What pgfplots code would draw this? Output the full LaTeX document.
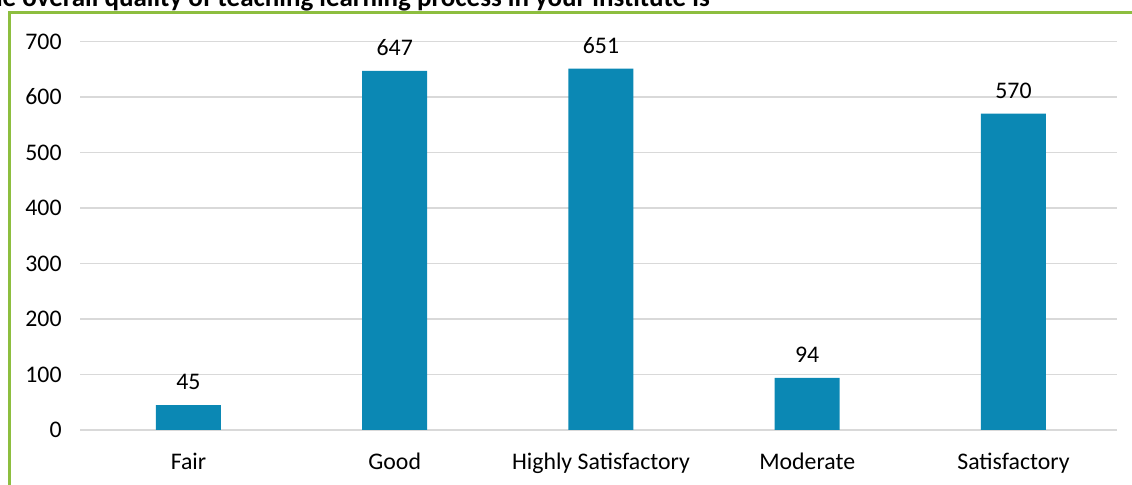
\documentclass[border=0pt]{standalone}
\usepackage{pgfplots}
\pgfplotsset{compat=1.18}
\usepackage{fontspec}
\setmainfont{Carlito}
\definecolor{barc}{HTML}{0B88B4}
\definecolor{gridc}{HTML}{D9D9D9}
\definecolor{framec}{HTML}{8DBE3F}
\begin{document}
\begin{tikzpicture}[x=1pt,y=1pt]
\useasboundingbox (0,0) rectangle (566,242.5);
\draw[framec, line width=1.3pt] (4.75,-5) -- (4.75,236.3) -- (600,236.3);
\node[anchor=base east, inner sep=0pt, font=\fontsize{13.5}{16}\selectfont\bfseries] at (355,239) {Q. The overall quality of teaching learning process in your institute is};
\begin{axis}[
  at={(40pt,27.5pt)}, anchor=south west,
  scale only axis, width=518.5pt, height=194.25pt,
  xmin=-0.526, xmax=4.502, ymin=0, ymax=700,
  ybar, bar width=32.5pt,
  axis line style={draw=none},
  major tick length=0pt,
  ymajorgrids, grid style={gridc, line width=0.6pt},
  ytick={0,100,...,700},
  xtick={0,1,2,3,4},
  xticklabels={Fair,Good,Highly Satisfactory,Moderate,Satisfactory},
  tick label style={font=\fontsize{11.9}{14}\selectfont, /pgf/number format/assume math mode=true},
  yticklabel style={anchor=east, inner sep=0pt, xshift=-9pt},
  xticklabel style={anchor=base, inner sep=0pt, yshift=-20pt},
  nodes near coords,
  nodes near coords style={font=\fontsize{11.9}{14}\selectfont, anchor=south, inner sep=0pt, yshift=7.5pt, /pgf/number format/assume math mode=true},
  clip=false,
]
\addplot[fill=barc, draw=none] coordinates {(0,45) (1,647) (2,651) (3,94) (4,570)};
\end{axis}
\end{tikzpicture}
\end{document}
